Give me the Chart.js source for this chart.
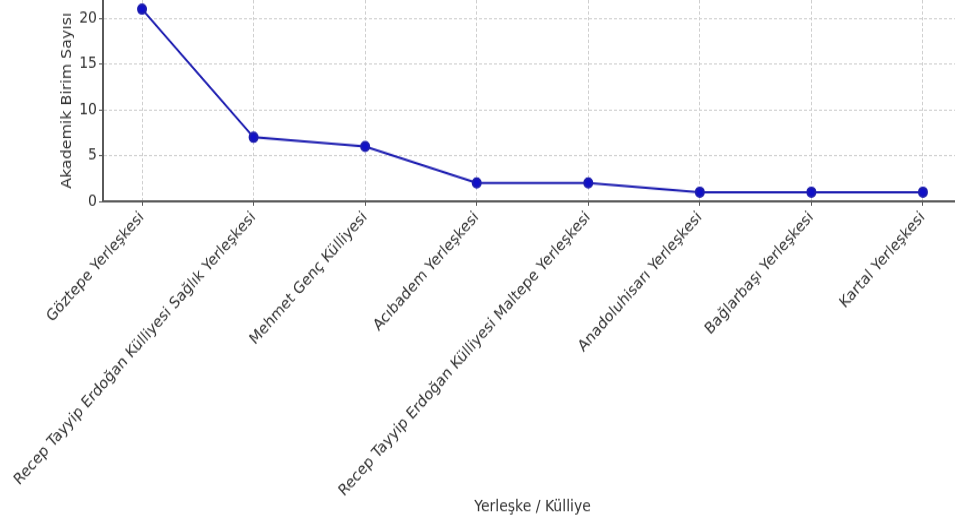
<!DOCTYPE html>
<html>
<head>
<meta charset="utf-8">
<script src="https://cdn.jsdelivr.net/npm/chart.js@4"></script>
<style>
  html { overflow: hidden; }
  html, body { margin: 0; padding: 0; background: #fff; }
  body { width: 975px; height: 527px; }
  /* the reference picture is stretched a bit vertically */
  #wrap { width: 975px; height: 466px; transform: scale(1, 1.131); transform-origin: 0 0; }
</style>
</head>
<body>
<div id="wrap"><canvas id="campusChart"></canvas></div>
<script>
// campuses and number of academic units
const campuses = [
    'Göztepe Yerleşkesi',
    'Recep Tayyip Erdoğan Külliyesi Sağlık Yerleşkesi',
    'Mehmet Genç Külliyesi',
    'Acıbadem Yerleşkesi',
    'Recep Tayyip Erdoğan Külliyesi Maltepe Yerleşkesi',
    'Anadoluhisarı Yerleşkesi',
    'Bağlarbaşı Yerleşkesi',
    'Kartal Yerleşkesi'
];
const unitCounts = [21, 7, 6, 2, 2, 1, 1, 1];
const yTicks = [0, 5, 10, 15, 20];

const font = 'DejaVu Sans';
const gridColor = '#cfcfcf';
const axisColor = '#5a5a5a';

const ctx = document.getElementById('campusChart').getContext('2d');

const campusChart = new Chart(ctx, {
    type: 'line',
    data: {
        datasets: [{
            label: 'Akademik Birim Sayısı',
            data: unitCounts.map((v, i) => ({ x: i, y: v })),
            borderColor: '#1c1cb0',
            backgroundColor: '#1010c8',
            borderWidth: 2,
            pointRadius: 4,
            pointHoverRadius: 4,
            tension: 0
        }]
    },
    options: {
        responsive: true,
        maintainAspectRatio: false,
        animation: false,
        layout: { autoPadding: false, padding: { left: 55, right: 13, top: 0, bottom: 5 } },
        plugins: {
            legend: { display: false },
            tooltip: { enabled: false }
        },
        scales: {
            x: {
                type: 'linear',
                min: -0.35,
                max: 7.35,
                afterBuildTicks: (scale) => {
                    scale.ticks = campuses.map((_, i) => ({ value: i }));
                },
                afterFit: (scale) => { scale.height = 283; },
                grid: {
                    color: gridColor,
                    tickColor: axisColor,
                    tickLength: 4,
                    tickBorderDash: [1, 0]
                },
                border: { display: true, color: axisColor, width: 2, dash: [3, 2] },
                ticks: {
                    autoSkip: false,
                    minRotation: 45,
                    maxRotation: 45,
                    padding: 2,
                    color: '#333',
                    font: { family: font, size: 14 },
                    callback: (v) => campuses[v]
                },
                title: {
                    display: true,
                    text: 'Yerleşke / Külliye',
                    color: '#333',
                    font: { family: font, size: 14 }
                }
            },
            y: {
                min: 0,
                max: 22,
                afterBuildTicks: (scale) => {
                    scale.ticks = yTicks.map(v => ({ value: v }));
                },
                afterFit: (scale) => {
                    scale.width = 48;
                    scale.paddingTop = 0;
                    scale.paddingBottom = 0;
                },
                grid: {
                    color: gridColor,
                    tickColor: axisColor,
                    tickLength: 4,
                    tickBorderDash: [1, 0]
                },
                border: { display: true, color: axisColor, width: 2, dash: [3, 2] },
                ticks: {
                    padding: 2,
                    color: '#333',
                    font: { family: font, size: 14 }
                },
                title: {
                    display: true,
                    text: 'Akademik Birim Sayısı',
                    color: '#333',
                    font: { family: font, size: 14 }
                }
            }
        }
    }
});
</script>
</body>
</html>
